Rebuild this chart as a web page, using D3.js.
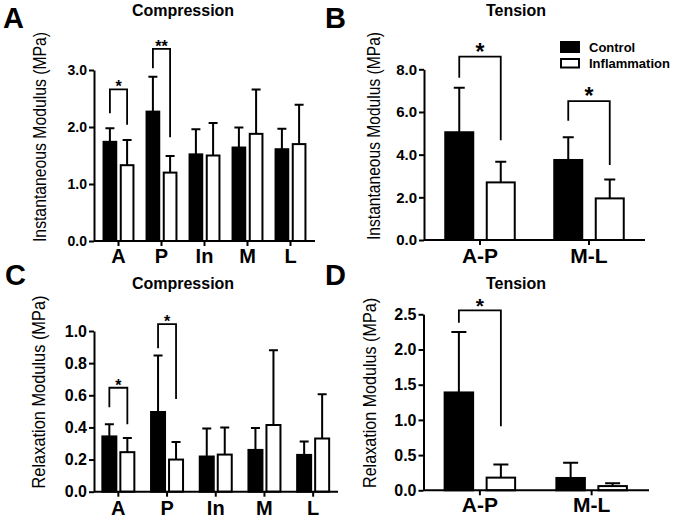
<!DOCTYPE html>
<html>
<head>
<meta charset="utf-8">
<script src="https://cdn.jsdelivr.net/npm/d3@7"></script>
<style>
  body { margin: 0; background: #fff; }
  svg { font-family: "Liberation Sans", Arial, sans-serif; }
</style>
</head>
<body>
<div id="chart"></div>
<script>
// ---- data ----
var series = ["Control", "Inflammation"];

var compCats = ["A", "P", "In", "M", "L"];
var tensCats = ["A-P", "M-L"];

// instantaneous modulus, compression (MPa)
var instCompCtrl = [1.74, 2.27, 1.52, 1.64, 1.61];
var instCompCtrlSd = [0.24, 0.61, 0.44, 0.35, 0.36];
var instCompInfl = [1.33, 1.20, 1.50, 1.88, 1.70];
var instCompInflSd = [0.44, 0.29, 0.57, 0.78, 0.69];

// instantaneous modulus, tension (MPa)
var instTensCtrl = [5.05, 3.75];
var instTensCtrlSd = [2.09, 1.06];
var instTensInfl = [2.70, 1.95];
var instTensInflSd = [0.97, 0.89];

// relaxation modulus, compression (MPa)
var relCompCtrl = [0.344, 0.496, 0.219, 0.26, 0.229];
var relCompCtrlSd = [0.076, 0.352, 0.175, 0.136, 0.083];
var relCompInfl = [0.246, 0.20, 0.231, 0.415, 0.331];
var relCompInflSd = [0.088, 0.11, 0.169, 0.465, 0.275];

// relaxation modulus, tension (MPa)
var relTensCtrl = [1.39, 0.175];
var relTensCtrlSd = [0.86, 0.215];
var relTensInfl = [0.18, 0.06];
var relTensInflSd = [0.185, 0.04];

// significance brackets: [category, label, top, left end, right end]
var sigInstComp = [["A", "*", 2.66, 2.24, 2.04], ["P", "**", 3.37, 3.03, 1.82]];
var sigInstTens = [["A-P", "*", 8.59, 7.60, 4.68], ["M-L", "*", 6.51, 5.59, 3.51]];
var sigRelComp = [["A", "*", 0.647, 0.525, 0.42], ["P", "*", 1.043, 0.892, 0.577]];
var sigRelTens = [["A-P", "*", 2.557, 2.38, 0.91]];

var instCompTicks = [0, 1, 2, 3];
var instTensTicks = [0, 2, 4, 6, 8];
var relCompTicks = [0, 0.2, 0.4, 0.6, 0.8, 1.0];
var relTensTicks = [0, 0.5, 1.0, 1.5, 2.0, 2.5];

// ---- layout ----
var W = 673, H = 519;
var svg = d3.select("#chart").append("svg")
  .attr("width", W).attr("height", H);

function toRows(cats, c, cs, f, fs) {
  return cats.map(function(k, i) {
    return { cat: k, vals: [{ s: series[0], v: c[i], sd: cs[i] }, { s: series[1], v: f[i], sd: fs[i] }] };
  });
}

function drawPanel(p) {
  var g = svg.append("g");
  var y = d3.scaleLinear().domain([0, p.ticks[p.ticks.length - 1]]).range([p.y0, p.yTop]);
  var x = d3.scaleBand().domain(p.cats).range(p.band);
  var x1 = d3.scaleBand().domain(series)
    .range([-(p.bw + p.gap / 2), p.bw + p.gap / 2])
    .paddingInner(p.gap / (p.bw + p.gap));
  var cx = function(c) { return x(c) + x.bandwidth() / 2; };

  // bars
  var grp = g.selectAll(".grp").data(p.rows).enter().append("g")
    .attr("transform", function(d) { return "translate(" + cx(d.cat) + ",0)"; });

  // error bars (upper only)
  grp.selectAll(".err").data(function(d) { return d.vals; }).enter().append("path")
    .attr("d", function(d) {
      var xm = x1(d.s) + x1.bandwidth() / 2;
      var yt = y(d.v + d.sd);
      return "M" + xm + "," + y(d.v) + "V" + yt +
        "M" + (xm - p.capW / 2) + "," + yt + "H" + (xm + p.capW / 2);
    })
    .attr("fill", "none").attr("stroke", "#000").attr("stroke-width", 2);

  grp.selectAll("rect").data(function(d) { return d.vals; }).enter().append("rect")
    .attr("x", function(d) { return x1(d.s); })
    .attr("width", x1.bandwidth())
    .attr("y", function(d) { return y(d.v); })
    .attr("height", function(d) { return y(0) - y(d.v); })
    .attr("fill", function(d) { return d.s === "Control" ? "#000" : "#fff"; })
    .attr("stroke", "#000").attr("stroke-width", 2);

  // significance brackets
  p.sig.forEach(function(s) {
    var xl = cx(s[0]) + x1(series[0]) + x1.bandwidth() / 2;
    var xr = cx(s[0]) + x1(series[1]) + x1.bandwidth() / 2;
    g.append("path")
      .attr("d", "M" + xl + "," + y(s[3]) + "V" + y(s[2]) + "H" + xr + "V" + y(s[4]))
      .attr("fill", "none").attr("stroke", "#000").attr("stroke-width", 1.8);
    g.append("text")
      .attr("x", (xl + xr) / 2).attr("y", y(s[2]) + p.starDy)
      .attr("text-anchor", "middle")
      .attr("font-size", p.starFont).attr("font-weight", "bold")
      .text(s[1]);
  });

  // y axis
  var ya = g.append("g").attr("transform", "translate(" + p.yAxisX + ",0)")
    .call(d3.axisLeft(y).tickValues(p.ticks).tickFormat(d3.format(".1f"))
      .tickSize(5).tickSizeOuter(0).tickPadding(2));
  ya.select(".domain").attr("stroke-width", 2);
  ya.selectAll(".tick line").attr("stroke-width", 2);
  ya.selectAll(".tick text").attr("font-size", p.tickFont).attr("font-weight", "bold")
    .attr("font-family", "Liberation Sans, Arial, sans-serif").attr("fill", "#000");

  // x axis
  g.append("line")
    .attr("x1", p.yAxisX).attr("x2", p.xEnd)
    .attr("y1", y(0)).attr("y2", y(0))
    .attr("stroke", "#000").attr("stroke-width", 2);
  g.selectAll(".xt").data(p.cats).enter().append("line")
    .attr("x1", cx).attr("x2", cx)
    .attr("y1", y(0)).attr("y2", y(0) + 5)
    .attr("stroke", "#000").attr("stroke-width", 2);
  g.selectAll(".xl").data(p.cats).enter().append("text")
    .attr("x", cx).attr("y", p.catBase)
    .attr("text-anchor", "middle")
    .attr("font-size", p.catFont).attr("font-weight", "bold")
    .text(function(d) { return d; });

  // y label
  g.append("text")
    .attr("transform", "translate(" + p.ylabX + "," + p.ylabY + ") rotate(-90)")
    .attr("text-anchor", "middle")
    .attr("font-size", p.ylabFont)
    .attr("textLength", p.ylabLen).attr("lengthAdjust", "spacingAndGlyphs")
    .text(p.ylabel);

  // title
  g.append("text")
    .attr("x", p.titleX).attr("y", p.titleY)
    .attr("text-anchor", "middle")
    .attr("font-size", 16).attr("font-weight", "bold")
    .text(p.title);

  // panel letter
  g.append("text")
    .attr("x", p.letterX).attr("y", p.letterY)
    .attr("font-size", 29).attr("font-weight", "bold")
    .text(p.letter);
}

drawPanel({
  rows: toRows(compCats, instCompCtrl, instCompCtrlSd, instCompInfl, instCompInflSd),
  cats: compCats, sig: sigInstComp, ticks: instCompTicks,
  yAxisX: 94, xEnd: 315, band: [97, 312], y0: 241, yTop: 70,
  bw: 12.7, gap: 4.5, capW: 9, tickFont: 14, catFont: 20, catBase: 263,
  starFont: 16, starDy: 3,
  ylabel: "Instantaneous Modulus (MPa)", ylabX: 46, ylabY: 137, ylabLen: 210, ylabFont: 17.5,
  title: "Compression", titleX: 183, titleY: 16, letter: "A", letterX: 3, letterY: 28
});

drawPanel({
  rows: toRows(tensCats, instTensCtrl, instTensCtrlSd, instTensInfl, instTensInflSd),
  cats: tensCats, sig: sigInstTens, ticks: instTensTicks,
  yAxisX: 424, xEnd: 645, band: [425.5, 643.5], y0: 240, yTop: 69.3,
  bw: 28, gap: 13.5, capW: 11, tickFont: 15, catFont: 21, catBase: 263,
  starFont: 23, starDy: 3,
  ylabel: "Instantaneous Modulus (MPa)", ylabX: 379.5, ylabY: 136, ylabLen: 208, ylabFont: 17.5,
  title: "Tension", titleX: 516, titleY: 16, letter: "B", letterX: 325, letterY: 28
});

drawPanel({
  rows: toRows(compCats, relCompCtrl, relCompCtrlSd, relCompInfl, relCompInflSd),
  cats: compCats, sig: sigRelComp, ticks: relCompTicks,
  yAxisX: 94, xEnd: 338, band: [94, 337.5], y0: 491.7, yTop: 331,
  bw: 14, gap: 4, capW: 9, tickFont: 16, catFont: 20, catBase: 515,
  starFont: 16, starDy: 3,
  ylabel: "Relaxation Modulus (MPa)", ylabX: 45, ylabY: 392, ylabLen: 193, ylabFont: 17.5,
  title: "Compression", titleX: 183, titleY: 289, letter: "C", letterX: 5, letterY: 285
});

drawPanel({
  rows: toRows(tensCats, relTensCtrl, relTensCtrlSd, relTensInfl, relTensInflSd),
  cats: tensCats, sig: sigRelTens, ticks: relTensTicks,
  yAxisX: 423.5, xEnd: 649, band: [424, 647.5], y0: 490.3, yTop: 314.3,
  bw: 28.5, gap: 13.5, capW: 15, tickFont: 16, catFont: 21, catBase: 512,
  starFont: 21, starDy: 3,
  ylabel: "Relaxation Modulus (MPa)", ylabX: 376, ylabY: 393, ylabLen: 190, ylabFont: 17.5,
  title: "Tension", titleX: 516, titleY: 289, letter: "D", letterX: 325, letterY: 285
});

// legend
var leg = svg.append("g").attr("transform", "translate(561,42)");
leg.selectAll("rect").data(series).enter().append("rect")
  .attr("x", 0).attr("y", function(d, i) { return i * 17; })
  .attr("width", 18).attr("height", function(d, i) { return i ? 8.5 : 10; })
  .attr("fill", function(d, i) { return i ? "#fff" : "#000"; })
  .attr("stroke", "#000").attr("stroke-width", 2);
leg.selectAll("text").data(series).enter().append("text")
  .attr("x", 28).attr("y", function(d, i) { return 9.5 + i * 16.5; })
  .attr("font-size", 13).attr("font-weight", "bold")
  .text(function(d) { return d; });
</script>
</body>
</html>
